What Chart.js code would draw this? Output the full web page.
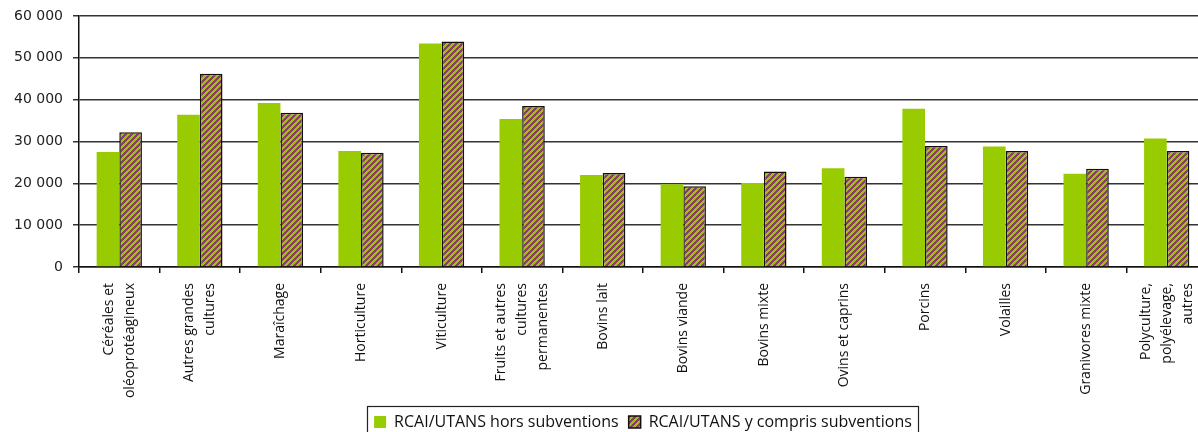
<!DOCTYPE html>
<html lang="fr">
<head>
<meta charset="utf-8">
<title>RCAI/UTANS par orientation</title>
<script src="https://cdn.jsdelivr.net/npm/chart.js@4"></script>
<style>
  html, body { margin: 0; padding: 0; background: #fff; overflow: hidden; }
  #wrap { position: relative; width: 1212px; height: 440px; }
</style>
</head>
<body>
<div id="wrap"><canvas id="chart"></canvas></div>
<script>
// Données (euros par UTANS)
const categories = [
  ['Céréales et', 'oléoprotéagineux'],
  ['Autres grandes', 'cultures'],
  'Maraîchage',
  'Horticulture',
  'Viticulture',
  ['Fruits et autres', 'cultures', 'permanentes'],
  'Bovins lait',
  'Bovins viande',
  'Bovins mixte',
  'Ovins et caprins',
  'Porcins',
  'Volailles',
  'Granivores mixte',
  ['Polyculture,', 'polyélevage,', 'autres']
];
const horsSubventions = [27500, 36400, 39200, 27700, 53400, 35400, 22000, 19800, 20100, 23600, 37800, 28800, 22300, 30700];
const comprisSubventions = [32200, 46200, 36900, 27300, 53900, 38500, 22500, 19300, 22800, 21600, 28900, 27700, 23500, 27700];
const seriesLabels = ['RCAI/UTANS hors subventions', 'RCAI/UTANS y compris subventions'];
const yTicks = [0, 10000, 20000, 30000, 40000, 50000, 60000];

const FONT = "'Open Sans', 'DejaVu Sans', sans-serif";

// motif hachuré (diagonales montantes, prune sur vert)
function makeHatch() {
  const s = 6;
  const c = document.createElement('canvas');
  c.width = s; c.height = s;
  const g = c.getContext('2d');
  for (let x = 0; x < s; x++) {
    for (let y = 0; y < s; y++) {
      g.fillStyle = ((x + y) % s) < s / 2 ? '#8a3f5e' : '#9ac800';
      g.fillRect(x, y, 1, 1);
    }
  }
  return g.createPattern(c, 'repeat');
}

function fmt(v) {
  return String(v).replace(/\B(?=(\d{3})+(?!\d))/g, ' ');
}

// centre les étiquettes sur plusieurs lignes autour de la graduation
const centerLines = {
  id: 'centerLines',
  beforeDraw(chart) {
    const items = chart.scales.x.getLabelItems();
    items.forEach(it => {
      if (it._centered || !Array.isArray(it.label)) return;
      const lh = it.font.lineHeight;
      it.options.translation[0] -= (it.label.length - 1) * lh / 2;
      it._centered = true;
    });
  }
};

// cadre autour de la légende
const legendFrame = {
  id: 'legendFrame',
  afterDraw(chart) {
    const hb = chart.legend && chart.legend.legendHitBoxes;
    if (!hb || !hb.length) return;
    const left = Math.min(...hb.map(b => b.left)) - 7;
    const right = Math.max(...hb.map(b => b.left + b.width)) + 6;
    const top = hb[0].top - 8;
    const bottom = hb[0].top + hb[0].height + 8;
    const ctx = chart.ctx;
    ctx.save();
    ctx.strokeStyle = '#222';
    ctx.lineWidth = 1.2;
    ctx.strokeRect(Math.round(left) + 0.5, Math.round(top) + 0.5, Math.round(right - left), Math.round(bottom - top));
    ctx.restore();
  }
};

const hatch = makeHatch();

new Chart(document.getElementById('chart'), {
  type: 'bar',
  data: {
    labels: categories,
    datasets: [
      { label: seriesLabels[0], data: horsSubventions, backgroundColor: '#99cc00', borderWidth: 0 },
      { label: seriesLabels[1], data: comprisSubventions, backgroundColor: hatch, borderColor: '#111', borderWidth: 1.5 }
    ]
  },
  options: {
    responsive: true,
    maintainAspectRatio: false,
    animation: false,
    layout: { padding: { top: 16, left: 0, right: 5, bottom: 0 } },
    datasets: { bar: { categoryPercentage: 0.562, barPercentage: 1 } },
    plugins: {
      title: { display: false },
      tooltip: { enabled: false },
      legend: {
        position: 'bottom',
        fullSize: false,
        labels: {
          font: { family: FONT, size: 16 },
          color: '#111',
          boxWidth: 12,
          boxHeight: 12,
          padding: 10
        }
      }
    },
    scales: {
      x: {
        offset: true,
        border: { display: true, color: '#111', width: 1.5 },
        grid: { display: true, offset: true, drawOnChartArea: false, drawTicks: true, tickLength: 6, color: '#111', lineWidth: 1.5 },
        ticks: {
          autoSkip: false,
          maxRotation: 90,
          minRotation: 90,
          padding: 10,
          color: '#111',
          font: { family: FONT, size: 14, lineHeight: 1.5 }
        },
        afterFit(scale) {
          scale.height = 137;
          scale.paddingLeft = 0;
          scale.paddingRight = 0;
        }
      },
      y: {
        min: 0,
        max: 60000,
        afterBuildTicks(scale) { scale.ticks = yTicks.map(v => ({ value: v })); },
        border: { display: true, color: '#111', width: 1.5 },
        grid: { color: '#333', lineWidth: 1.5, tickLength: 6 },
        ticks: {
          padding: 10,
          color: '#222',
          font: { family: "'DejaVu Sans', sans-serif", size: 14 },
          callback: v => fmt(v)
        },
        afterFit(scale) {
          scale.width = 79;
          scale.paddingTop = 0;
          scale.paddingBottom = 0;
        }
      }
    }
  },
  plugins: [centerLines, legendFrame]
});
</script>
</body>
</html>
